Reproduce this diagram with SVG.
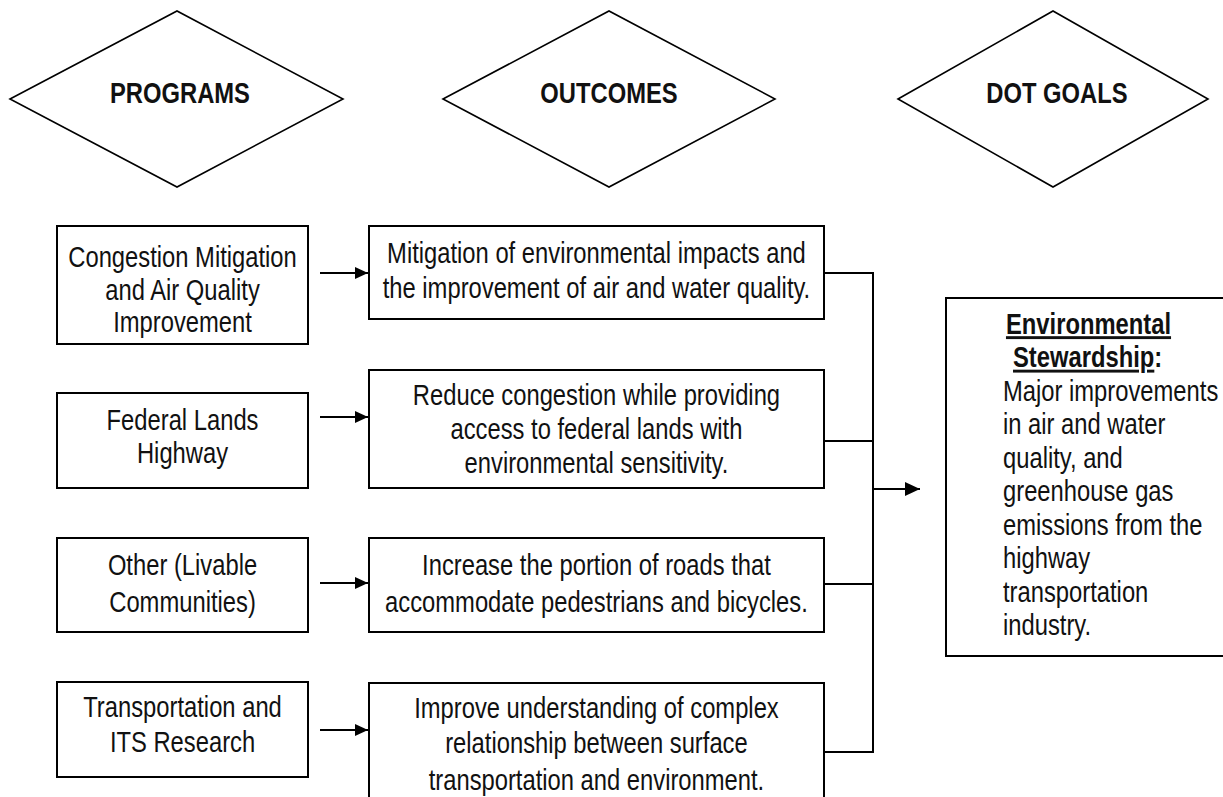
<svg xmlns="http://www.w3.org/2000/svg" width="1223" height="797" viewBox="0 0 1223 797">
<defs>
<style>
.bg{fill:#fff}
.dia{fill:#fff;stroke:#000;stroke-width:1.6}
.box{fill:#fff;stroke:#000;stroke-width:2}
.con{fill:none;stroke:#000;stroke-width:2}
.t{font-family:"Liberation Sans",Arial,sans-serif;font-size:29px;fill:#111}
.c{text-anchor:middle}
.b{font-weight:bold}
</style>
<marker id="ah" markerUnits="userSpaceOnUse" markerWidth="13" markerHeight="12" refX="13" refY="6" orient="auto">
<path d="M0,0 L13,6 L0,12 z" fill="#000"/>
</marker>
<marker id="ahb" markerUnits="userSpaceOnUse" markerWidth="15" markerHeight="14" refX="15" refY="7" orient="auto">
<path d="M0,0 L15,7 L0,14 z" fill="#000"/>
</marker>
</defs>
<rect class="bg" x="0" y="0" width="1223" height="797"/>

<g id="hdr-programs">
<polygon class="dia" points="10,99 177,11 343,99 177,187"/>
<text class="t c b" transform="scale(0.82 1)" x="219.5" y="103">PROGRAMS</text>
</g>
<g id="hdr-outcomes">
<polygon class="dia" points="443,99 609,11 775,99 609,187"/>
<text class="t c b" transform="scale(0.82 1)" x="742.7" y="103">OUTCOMES</text>
</g>
<g id="hdr-goals">
<polygon class="dia" points="898,99 1053,11 1208,99 1053,187"/>
<text class="t c b" transform="scale(0.82 1)" x="1289" y="103">DOT GOALS</text>
</g>

<g id="p1">
<rect class="box" x="57" y="226" width="251" height="118"/>
<g transform="scale(0.82 1)">
<text class="t c" x="222.6" y="267">Congestion Mitigation</text>
<text class="t c" x="222.6" y="300">and Air Quality</text>
<text class="t c" x="222.6" y="332">Improvement</text>
</g>
</g>
<g id="p2">
<rect class="box" x="57" y="393" width="251" height="95"/>
<g transform="scale(0.82 1)">
<text class="t c" x="222.6" y="430">Federal Lands</text>
<text class="t c" x="222.6" y="463">Highway</text>
</g>
</g>
<g id="p3">
<rect class="box" x="57" y="538" width="251" height="94"/>
<g transform="scale(0.82 1)">
<text class="t c" x="222.6" y="575">Other (Livable</text>
<text class="t c" x="222.6" y="612">Communities)</text>
</g>
</g>
<g id="p4">
<rect class="box" x="57" y="682" width="251" height="95"/>
<g transform="scale(0.82 1)">
<text class="t c" x="222.6" y="717">Transportation and</text>
<text class="t c" x="222.6" y="752">ITS Research</text>
</g>
</g>

<g id="o1">
<rect class="box" x="369" y="226" width="455" height="93"/>
<g transform="scale(0.82 1)">
<text class="t c" x="727.4" y="263">Mitigation of environmental impacts and</text>
<text class="t c" x="727.4" y="298">the improvement of air and water quality.</text>
</g>
</g>
<g id="o2">
<rect class="box" x="369" y="370" width="455" height="118"/>
<g transform="scale(0.82 1)">
<text class="t c" x="727.4" y="405">Reduce congestion while providing</text>
<text class="t c" x="727.4" y="439">access to federal lands with</text>
<text class="t c" x="727.4" y="473">environmental sensitivity.</text>
</g>
</g>
<g id="o3">
<rect class="box" x="369" y="538" width="455" height="94"/>
<g transform="scale(0.82 1)">
<text class="t c" x="727.4" y="575">Increase the portion of roads that</text>
<text class="t c" x="727.4" y="612">accommodate pedestrians and bicycles.</text>
</g>
</g>
<g id="o4">
<rect class="box" x="369" y="683" width="455" height="130"/>
<g transform="scale(0.82 1)">
<text class="t c" x="727.4" y="718">Improve understanding of complex</text>
<text class="t c" x="727.4" y="753">relationship between surface</text>
<text class="t c" x="727.4" y="790">transportation and environment.</text>
</g>
</g>

<g id="goal">
<rect class="box" x="946" y="298" width="280" height="358"/>
<g transform="scale(0.82 1)">
<text class="t b" x="1226.8" y="334"><tspan text-decoration="underline">Environmental</tspan></text>
<text class="t b" x="1235.4" y="367.5"><tspan text-decoration="underline">Stewardship</tspan>:</text>
<text class="t" x="1223.2" y="401">Major improvements</text>
<text class="t" x="1223.2" y="434.5">in air and water</text>
<text class="t" x="1223.2" y="468">quality, and</text>
<text class="t" x="1223.2" y="501.5">greenhouse gas</text>
<text class="t" x="1223.2" y="535">emissions from the</text>
<text class="t" x="1223.2" y="568.5">highway</text>
<text class="t" x="1223.2" y="602">transportation</text>
<text class="t" x="1223.2" y="635.5">industry.</text>
</g>
</g>

<g id="connectors">
<line class="con" x1="320" y1="273" x2="368" y2="273" marker-end="url(#ah)"/>
<line class="con" x1="320" y1="417" x2="368" y2="417" marker-end="url(#ah)"/>
<line class="con" x1="320" y1="583" x2="368" y2="583" marker-end="url(#ah)"/>
<line class="con" x1="320" y1="730" x2="368" y2="730" marker-end="url(#ah)"/>
<polyline class="con" points="824,273 873,273 873,752 824,752"/>
<line class="con" x1="824" y1="441" x2="873" y2="441"/>
<line class="con" x1="824" y1="584" x2="873" y2="584"/>
<line class="con" x1="873" y1="489" x2="920" y2="489" marker-end="url(#ahb)"/>
</g>
</svg>
